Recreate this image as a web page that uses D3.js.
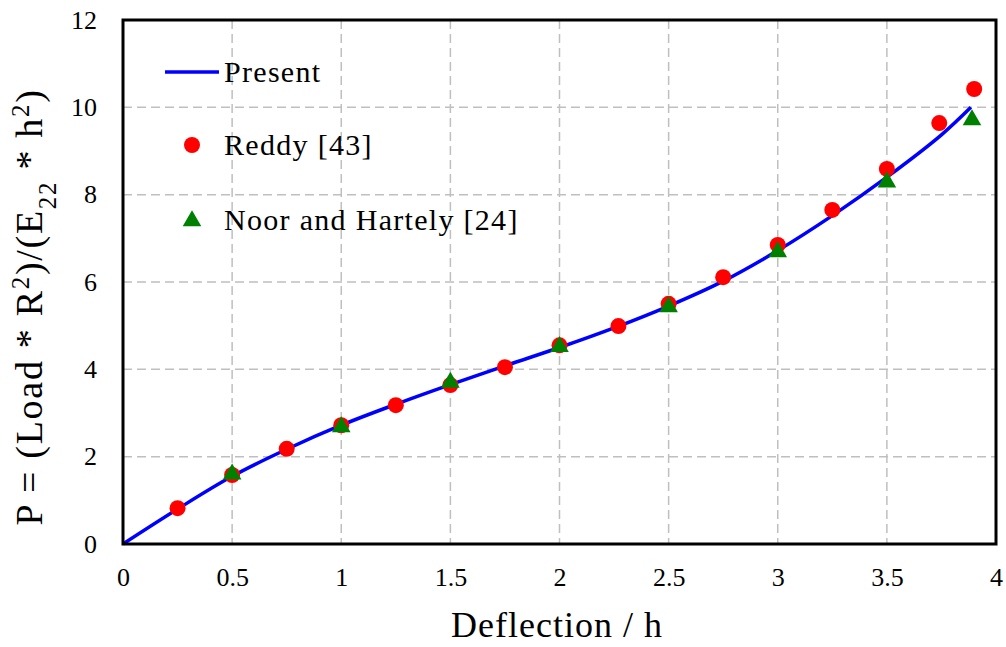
<!DOCTYPE html>
<html><head><meta charset="utf-8">
<script src="https://cdn.jsdelivr.net/npm/d3@7"></script>
<style>body{margin:0;background:#fff}svg{display:block}</style>
</head><body><svg id="c" width="1006" height="647" font-family="Liberation Serif, serif"></svg>
<script>
const presentX = [0,0.25,0.5,0.75,1,1.25,1.5,1.75,2,2.25,2.5,2.75,3,3.25,3.5,3.75,3.885];
const presentY = [0,0.80,1.55,2.17,2.72,3.20,3.65,4.08,4.50,4.95,5.45,6.02,6.72,7.52,8.40,9.37,10.0];
const reddyX = [0.25,0.5,0.75,1,1.25,1.5,1.75,2,2.27,2.5,2.75,3,3.25,3.5,3.74,3.9];
const reddyY = [0.82,1.58,2.18,2.72,3.18,3.64,4.05,4.55,4.99,5.50,6.11,6.85,7.65,8.59,9.64,10.42];
const noorX = [0.5,1,1.5,2,2.5,3,3.5,3.89];
const noorY = [1.60,2.68,3.70,4.52,5.43,6.69,8.29,9.71];
const xTicks = [0,0.5,1,1.5,2,2.5,3,3.5,4];
const yTicks = [0,2,4,6,8,10,12];

const FONT = "'Liberation Serif', serif";
const svg = d3.select("#c");
const L=123,R=996,T=20,B=544;
const x = d3.scaleLinear().domain([0,4]).range([L,R]);
const y = d3.scaleLinear().domain([0,12]).range([B,T]);

// grid
svg.append("g").selectAll("line").data(xTicks.slice(1,-1)).join("line")
  .attr("x1",d=>x(d)).attr("x2",d=>x(d)).attr("y1",T).attr("y2",B)
  .attr("stroke","#bfbfbf").attr("stroke-width",1.5).attr("stroke-dasharray","9,5");
svg.append("g").selectAll("line").data(yTicks.slice(1,-1)).join("line")
  .attr("y1",d=>y(d)).attr("y2",d=>y(d)).attr("x1",L).attr("x2",R)
  .attr("stroke","#bfbfbf").attr("stroke-width",1.5).attr("stroke-dasharray","9,5");

// axes labels
const xa = svg.append("g").attr("transform",`translate(0,${B})`).call(d3.axisBottom(x).tickValues(xTicks).tickSize(0).tickPadding(24).tickFormat(d=>String(d)));
xa.attr("font-family",FONT).attr("font-size",26);
xa.select(".domain").remove();
xa.selectAll("text").attr("fill","#000").attr("font-family",FONT).attr("font-size",26);
const ya = svg.append("g").attr("transform",`translate(${L},0)`).call(d3.axisLeft(y).tickValues(yTicks).tickSize(0).tickPadding(26).tickFormat(d=>String(d)));
ya.attr("font-family",FONT).attr("font-size",26);
ya.select(".domain").remove();
ya.selectAll("text").attr("fill","#000").attr("font-family",FONT).attr("font-size",26);

// line
const pts = presentX.map((v,i)=>[v,presentY[i]]);
svg.append("path").datum(pts).attr("fill","none").attr("stroke","#0000ff").attr("stroke-width",3.5)
  .attr("d",d3.line().x(d=>x(d[0])).y(d=>y(d[1])).curve(d3.curveCatmullRom));

// markers
svg.append("g").selectAll("circle").data(reddyX.map((v,i)=>[v,reddyY[i]])).join("circle")
  .attr("cx",d=>x(d[0])).attr("cy",d=>y(d[1])).attr("r",8).attr("fill","#ff0000");
const tri = d3.symbol().type(d3.symbolTriangle).size(150);
svg.append("g").selectAll("path").data(noorX.map((v,i)=>[v,noorY[i]])).join("path")
  .attr("transform",d=>`translate(${x(d[0])},${y(d[1])})`).attr("d",tri).attr("fill","#008000");

// frame
svg.append("rect").attr("x",L).attr("y",T).attr("width",R-L).attr("height",B-T)
  .attr("fill","none").attr("stroke","#000").attr("stroke-width",3);

// legend
const lg = svg.append("g");
lg.append("line").attr("x1",165).attr("x2",219).attr("y1",72).attr("y2",72).attr("stroke","#0000ff").attr("stroke-width",3.5);
lg.append("circle").attr("cx",192).attr("cy",145).attr("r",8).attr("fill","#ff0000");
lg.append("path").attr("transform","translate(192,221)").attr("d",tri).attr("fill","#008000");
[["Present",82],["Reddy [43]",155],["Noor and Hartely [24]",230]].forEach(([t,yy])=>{
  lg.append("text").attr("x",224).attr("y",yy).attr("font-size",30).attr("letter-spacing",1.3).attr("fill","#000").text(t);
});

// titles
svg.append("text").attr("x",557).attr("y",637).attr("text-anchor","middle").attr("font-size",36).attr("letter-spacing",1).text("Deflection / h");
const yt = svg.append("text").attr("transform","translate(42,307) rotate(-90)").attr("text-anchor","middle").attr("font-size",38).attr("letter-spacing",1.7);
yt.append("tspan").text("P = (Load * R");
yt.append("tspan").attr("baseline-shift","super").attr("font-size",25).text("2");
yt.append("tspan").text(")/(E");
yt.append("tspan").attr("baseline-shift","sub").attr("font-size",25).text("22");
yt.append("tspan").text(" * h");
yt.append("tspan").attr("baseline-shift","super").attr("font-size",25).text("2");
yt.append("tspan").text(")");
</script></body></html>
